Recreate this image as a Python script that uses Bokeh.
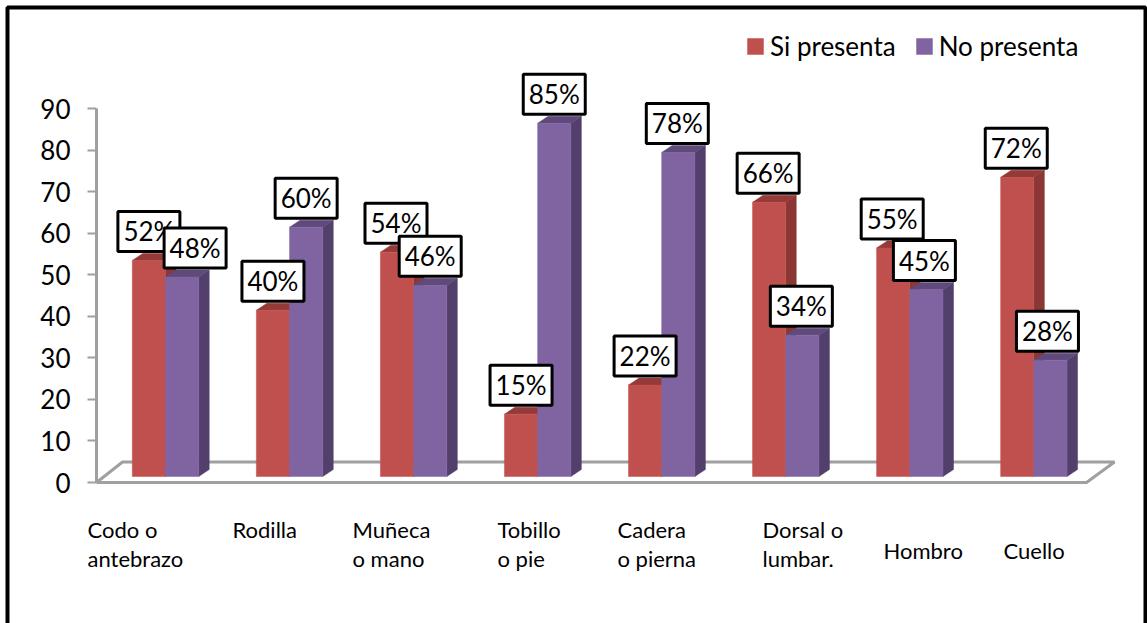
from bokeh.plotting import figure
from bokeh.models import (LinearAxis, FixedTicker, Range1d, BoxAnnotation, Label, Legend, LegendItem)
from bokeh.core.properties import value
from bokeh.embed import file_html
from bokeh.resources import INLINE

categories = ["Codo o\nantebrazo", "Rodilla", "Muñeca\no mano", "Tobillo\no pie",
              "Cadera\no pierna", "Dorsal o\nlumbar.", "Hombro", "Cuello"]
si_presenta = [52, 40, 54, 15, 22, 66, 55, 72]
no_presenta = [48, 60, 46, 85, 78, 34, 45, 28]
y_ticks = [0, 10, 20, 30, 40, 50, 60, 70, 80, 90]

FONT = "Lato"
RED, RED_TOP, RED_SIDE = "#C0504D", "#953A38", "#8A3735"
PUR, PUR_TOP, PUR_SIDE = "#8064A2", "#5F4A7B", "#533F6C"
GREY = "#A0A0A0"

# pixel layout of the picture
W, H, AX_L = 1147, 623, 96
PX_X0, PX_GROUP = 165.0, 124.05
PX_Y0, PX_UNIT = 482.0, 4.155
BAR_W = 33.2 / PX_GROUP
DX, DY = 10.5 / PX_GROUP, 7 / PX_UNIT
BASE = 6 / PX_UNIT


def xd(px):
    return (px - PX_X0) / PX_GROUP


def yd(px):
    return (PX_Y0 - px) / PX_UNIT


p = figure(width=W, height=H, output_backend="svg", toolbar_location=None,
           x_range=Range1d(xd(0), xd(W)), y_range=Range1d(yd(H), yd(0)),
           x_axis_type=None, y_axis_type=None, min_border_left=0, min_border_right=0,
           min_border_top=0, min_border_bottom=0, outline_line_color=None)
p.grid.visible = False

axis = LinearAxis(ticker=FixedTicker(ticks=y_ticks), bounds=(0, 90), fixed_location=xd(AX_L))
axis.axis_line_color = GREY
axis.axis_line_width = 3
axis.major_tick_line_color = GREY
axis.major_tick_line_width = 2
axis.major_tick_in = 0
axis.major_tick_out = 9
axis.minor_tick_line_color = None
axis.major_label_text_font = FONT
axis.major_label_text_font_size = "26px"
axis.major_label_text_color = "#000000"
axis.major_label_standoff = 17
p.add_layout(axis, "left")

# floor of the chart
p.line([xd(AX_L), xd(1086), xd(1114), xd(122), xd(AX_L)],
       [0, 0, yd(461.5), yd(461.5), 0], line_color=GREY, line_width=3)


def bars(vals, left_of, front, top, side):
    xs_side, ys_side, xs_top, ys_top = [], [], [], []
    for i, v in enumerate(vals):
        l = i + left_of
        r = l + BAR_W
        xs_side.append([r, r + DX, r + DX, r])
        ys_side.append([BASE, BASE + DY, BASE + v + DY, BASE + v])
        xs_top.append([l, r, r + DX, l + DX])
        ys_top.append([BASE + v, BASE + v, BASE + v + DY, BASE + v + DY])
    p.patches(xs_side, ys_side, fill_color=side, line_color=side, line_width=0.5)
    p.patches(xs_top, ys_top, fill_color=top, line_color=top, line_width=0.5)
    return p.vbar(x=[i + left_of + BAR_W / 2 for i in range(len(vals))], width=BAR_W,
                  bottom=BASE, top=[BASE + v for v in vals], fill_color=front,
                  line_color=front, line_width=0.5)


r_si = bars(si_presenta, -BAR_W, RED, RED_TOP, RED_SIDE)
r_no = bars(no_presenta, 0, PUR, PUR_TOP, PUR_SIDE)

# value labels: offset in pixels from the centre of the bar
si_shift = [0, 0, -1, 0, 0, -1, -1, -1]
no_shift = [13, 0, 0, 0, -1, -1, -2, -3]


def value_labels(vals, center_of, shift):
    xs = [i + center_of + s / PX_GROUP for i, s in enumerate(shift)]
    ys = [BASE + v + 29 / PX_UNIT for v in vals]
    p.rect(xs, ys, width=62, height=40, width_units="screen", height_units="screen",
           fill_color="white", line_color="black", line_width=3)
    p.text(xs, ys, text=[f"{v}%" for v in vals], text_align="center", text_baseline="middle",
           text_font=value(FONT), text_font_size="26px", text_color="black")


value_labels(si_presenta, -BAR_W / 2, si_shift)
value_labels(no_presenta, BAR_W / 2, no_shift)

# category labels
cat_left = [87, 232, 352, 497, 617, 762, 883, 1003]
cat_first_y = [529, 529, 529, 529, 529, 529, 550, 550]
for name, px, py in zip(categories, cat_left, cat_first_y):
    for k, line in enumerate(name.split("\n")):
        p.add_layout(Label(x=xd(px), y=yd(py + 29 * k), text=line, text_font=FONT,
                           text_font_size="22px", text_color="black",
                           text_align="left", text_baseline="middle"))

legend = Legend(items=[LegendItem(label="Si presenta", renderers=[r_si]),
                       LegendItem(label="No presenta", renderers=[r_no])],
                orientation="horizontal", location=(745, H - 62),
                glyph_width=20, glyph_height=20, label_text_font=FONT, label_text_font_size="26px",
                label_text_color="black", background_fill_alpha=0, border_line_color=None,
                padding=0, margin=0, spacing=18, label_standoff=5)
p.add_layout(legend)

p.add_layout(BoxAnnotation(left=7, right=1145, top=7, bottom=H + 20, left_units="canvas",
                           right_units="canvas", top_units="canvas", bottom_units="canvas",
                           fill_alpha=0, line_alpha=1, line_color="black", line_width=4))

open("out.html", "w").write(file_html(p, INLINE))
